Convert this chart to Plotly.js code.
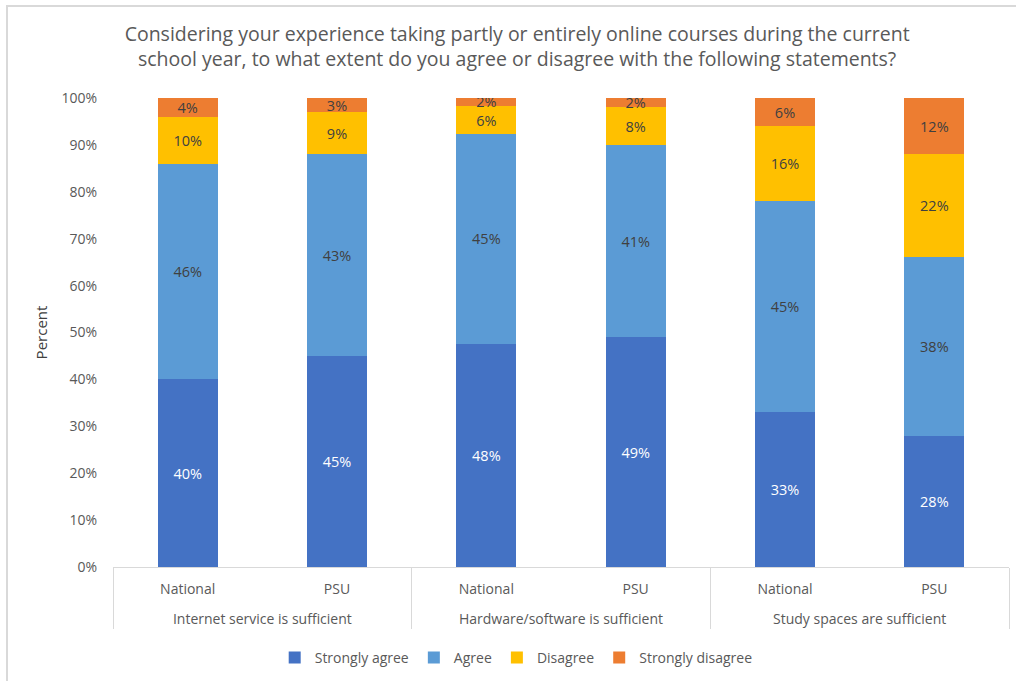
<!DOCTYPE html>
<html>
<head>
<meta charset="utf-8">
<script src="https://cdn.plot.ly/plotly-3.0.1.min.js"></script>
<style>
  html, body { margin: 0; padding: 0; background: #fff; }
  #wrap { position: relative; width: 1016px; height: 681px; }
  #chart { width: 1016px; height: 681px; }
  #frame { position: absolute; left: 6px; top: 5px; width: 1012px; height: 680px;
           border-left: 2px solid #d9d9d9; border-top: 2px solid #d9d9d9; pointer-events: none; }
</style>
</head>
<body>
<div id="wrap"><div id="chart"></div><div id="frame"></div></div>
<script>
const statements = ["Internet service is sufficient", "Internet service is sufficient",
                    "Hardware/software is sufficient", "Hardware/software is sufficient",
                    "Study spaces are sufficient", "Study spaces are sufficient"];
const groups = ["National", "PSU", "National", "PSU", "National", "PSU"];

const stronglyAgree    = [40, 45, 47.6, 49, 33, 28];
const agree            = [46, 43, 44.8, 41, 45, 38];
const disagree         = [10, 9, 5.8, 8, 16, 22];
const stronglyDisagree = [4, 3, 1.9, 2, 6, 12];

const seriesNames = ["Strongly agree", "Agree", "Disagree", "Strongly disagree"];
const seriesValues = [stronglyAgree, agree, disagree, stronglyDisagree];
const seriesColors = ["#4472C4", "#5B9BD5", "#FFC000", "#ED7D31"];
const labelColors = ["#ffffff", "#404040", "#404040", "#404040"];

const FONT = "Open Sans, Noto Sans, sans-serif";

// trailing blank line on the inner labels pushes the outer labels further down
const groupLabels = groups.map(g => g + "<br> ");

const traces = seriesNames.map((name, i) => ({
  type: "bar",
  name: name,
  x: [statements, groupLabels],
  y: seriesValues[i],
  marker: { color: seriesColors[i], line: { width: 0 } },
  texttemplate: "%{y:.0f}%",
  textposition: "inside",
  insidetextanchor: "middle",
  constraintext: "none",
  textangle: 0,
  textfont: { family: FONT, size: 14.5, color: labelColors[i] },
  hoverinfo: "skip"
}));

const layout = {
  width: 1016, height: 681,
  margin: { l: 113, r: 7, t: 98, b: 114 },
  paper_bgcolor: "#ffffff",
  plot_bgcolor: "#ffffff",
  font: { family: FONT, size: 14, color: "#595959" },
  barmode: "stack",
  bargap: 0.6,
  showlegend: true,
  title: {
    text: "Considering your experience taking partly or entirely online courses during the current<br>school year, to what extent do you agree or disagree with the following statements?",
    font: { family: FONT, size: 19.5, color: "#595959" },
    xref: "container", x: 0.509, xanchor: "center",
    yref: "container", y: 0.94, yanchor: "top"
  },
  xaxis: {
    type: "multicategory",
    showline: true, linecolor: "#d9d9d9", linewidth: 1,
    showgrid: false, zeroline: false,
    ticks: "", showdividers: true, dividercolor: "#d9d9d9", dividerwidth: 1,
    ticklabelstandoff: 9,
    tickfont: { family: FONT, size: 14, color: "#595959" }
  },
  yaxis: {
    range: [0, 100], dtick: 10, ticksuffix: "%",
    showgrid: false, zeroline: false, showline: false, ticks: "",
    ticklabelstandoff: 15,
    tickfont: { family: FONT, size: 14, color: "#595959" },
    title: { text: "Percent", font: { family: FONT, size: 15, color: "#404040" }, standoff: 10 }
  },
  legend: {
    orientation: "h", x: 0.45, xanchor: "center", y: -0.194, yanchor: "middle",
    traceorder: "normal",
    font: { family: FONT, size: 14, color: "#595959" }
  }
};

Plotly.newPlot("chart", traces, layout, { displayModeBar: false, staticPlot: true });
</script>
</body>
</html>
